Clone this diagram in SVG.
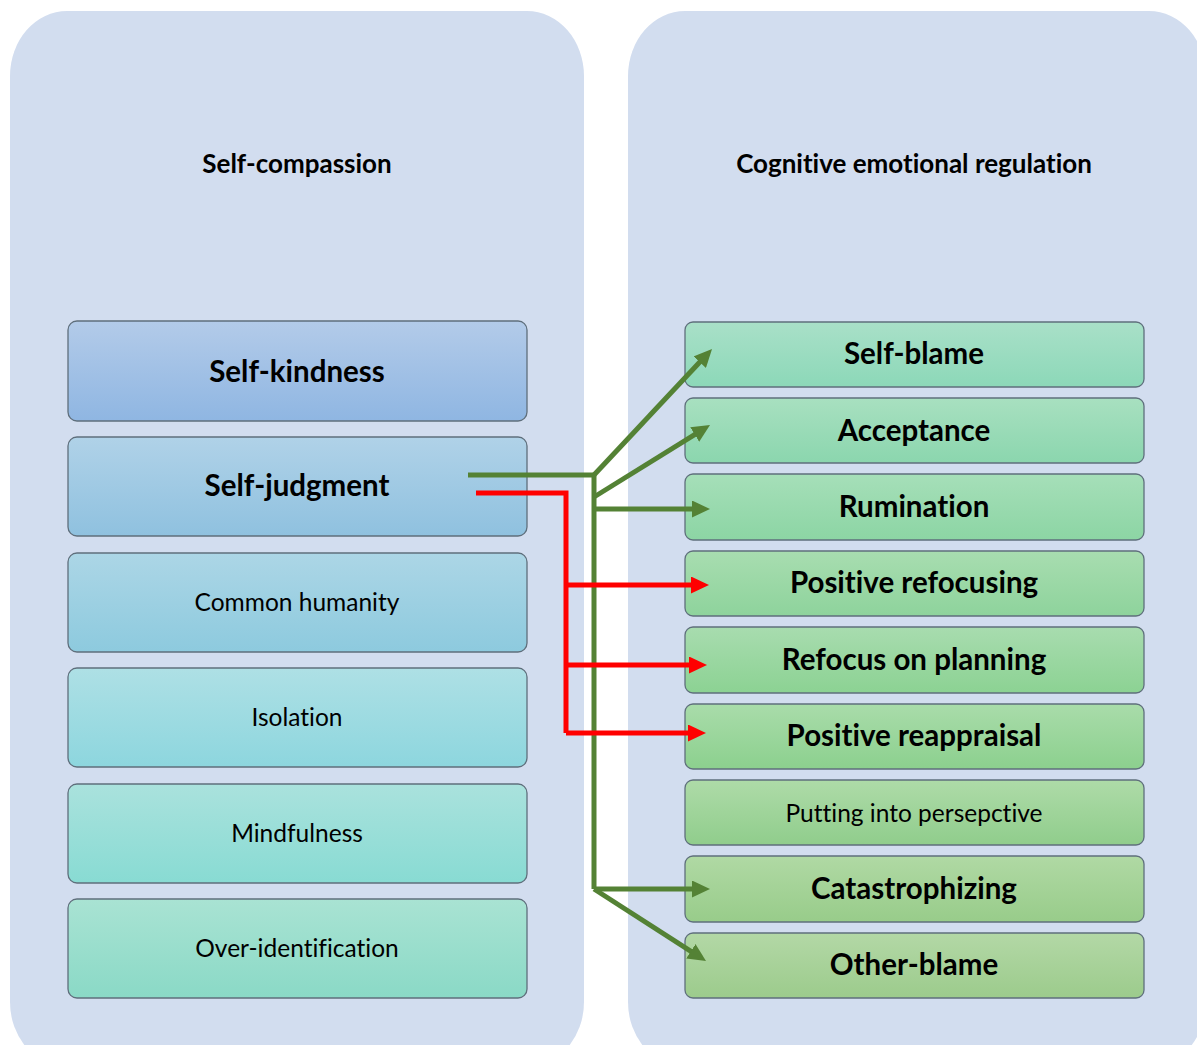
<svg xmlns="http://www.w3.org/2000/svg" width="1197" height="1045" viewBox="0 0 1197 1045">
<style>
.panel{fill:#d2ddef}
.box{stroke:#5f6f7c;stroke-width:1.3}
text{font-family:Lato,"Noto Sans","Liberation Sans",sans-serif;fill:#000;text-anchor:middle;font-variant-ligatures:none}
.hdr{font-size:26px;font-weight:bold}
.b{font-size:29.5px;font-weight:bold}
.r{font-size:24.5px}
.g{fill:none;stroke:#548235;stroke-width:5;stroke-linejoin:miter}
.rd{fill:none;stroke:#ff0000;stroke-width:5;stroke-linejoin:miter}
</style>
<defs>
<marker id="ag" markerUnits="userSpaceOnUse" markerWidth="18" markerHeight="17" refX="8" refY="8.5" orient="auto"><path d="M0,0 L18,8.5 L0,17 z" fill="#548235"/></marker>
<marker id="ar" markerUnits="userSpaceOnUse" markerWidth="18" markerHeight="17" refX="8" refY="8.5" orient="auto"><path d="M0,0 L18,8.5 L0,17 z" fill="#ff0000"/></marker>
<linearGradient id="l1" x1="0" y1="0" x2="0" y2="1"><stop offset="0" stop-color="#b3cbe9"/><stop offset="1" stop-color="#8fb6e2"/></linearGradient>
<linearGradient id="l2" x1="0" y1="0" x2="0" y2="1"><stop offset="0" stop-color="#b0d2e8"/><stop offset="1" stop-color="#8fc1df"/></linearGradient>
<linearGradient id="l3" x1="0" y1="0" x2="0" y2="1"><stop offset="0" stop-color="#acd6e6"/><stop offset="1" stop-color="#8dcade"/></linearGradient>
<linearGradient id="l4" x1="0" y1="0" x2="0" y2="1"><stop offset="0" stop-color="#aee0e5"/><stop offset="1" stop-color="#8dd6de"/></linearGradient>
<linearGradient id="l5" x1="0" y1="0" x2="0" y2="1"><stop offset="0" stop-color="#aae2dd"/><stop offset="1" stop-color="#88dbd3"/></linearGradient>
<linearGradient id="l6" x1="0" y1="0" x2="0" y2="1"><stop offset="0" stop-color="#a9e3d3"/><stop offset="1" stop-color="#8ad9c6"/></linearGradient>
<linearGradient id="r1" x1="0" y1="0" x2="0" y2="1"><stop offset="0" stop-color="#a9e0c8"/><stop offset="1" stop-color="#8cd8b8"/></linearGradient>
<linearGradient id="r2" x1="0" y1="0" x2="0" y2="1"><stop offset="0" stop-color="#a8e0c0"/><stop offset="1" stop-color="#8bd6ae"/></linearGradient>
<linearGradient id="r3" x1="0" y1="0" x2="0" y2="1"><stop offset="0" stop-color="#a6dfb9"/><stop offset="1" stop-color="#8cd5a4"/></linearGradient>
<linearGradient id="r4" x1="0" y1="0" x2="0" y2="1"><stop offset="0" stop-color="#a8ddb0"/><stop offset="1" stop-color="#8ed39c"/></linearGradient>
<linearGradient id="r5" x1="0" y1="0" x2="0" y2="1"><stop offset="0" stop-color="#a8dcaf"/><stop offset="1" stop-color="#8cd293"/></linearGradient>
<linearGradient id="r6" x1="0" y1="0" x2="0" y2="1"><stop offset="0" stop-color="#a9dcaa"/><stop offset="1" stop-color="#8cd08e"/></linearGradient>
<linearGradient id="r7" x1="0" y1="0" x2="0" y2="1"><stop offset="0" stop-color="#aedba8"/><stop offset="1" stop-color="#90cd8c"/></linearGradient>
<linearGradient id="r8" x1="0" y1="0" x2="0" y2="1"><stop offset="0" stop-color="#b0d9a4"/><stop offset="1" stop-color="#98cc8a"/></linearGradient>
<linearGradient id="r9" x1="0" y1="0" x2="0" y2="1"><stop offset="0" stop-color="#b3d8a6"/><stop offset="1" stop-color="#9ccb8c"/></linearGradient>
</defs>
<rect width="1197" height="1045" fill="#ffffff"/>
<g id="panel-left"><rect class="panel" x="10" y="11" width="574" height="1056" rx="57" ry="65"/><text class="hdr" x="297" y="173">Self-compassion</text></g>
<g id="panel-right"><rect class="panel" x="628" y="11" width="578" height="1056" rx="57" ry="65"/><text class="hdr" x="914" y="173">Cognitive emotional regulation</text></g>
<g id="self-kindness"><rect class="box" x="68" y="321" width="459" height="100" rx="9" fill="url(#l1)"/><text class="b" x="297" y="382">Self-kindness</text></g>
<g id="self-judgment"><rect class="box" x="68" y="437" width="459" height="99" rx="9" fill="url(#l2)"/><text class="b" x="297" y="496">Self-judgment</text></g>
<g id="common-humanity"><rect class="box" x="68" y="553" width="459" height="99" rx="9" fill="url(#l3)"/><text class="r" x="297" y="611">Common humanity</text></g>
<g id="isolation"><rect class="box" x="68" y="668" width="459" height="99" rx="9" fill="url(#l4)"/><text class="r" x="297" y="726">Isolation</text></g>
<g id="mindfulness"><rect class="box" x="68" y="784" width="459" height="99" rx="9" fill="url(#l5)"/><text class="r" x="297" y="842">Mindfulness</text></g>
<g id="over-identification"><rect class="box" x="68" y="899" width="459" height="99" rx="9" fill="url(#l6)"/><text class="r" x="297" y="957">Over-identification</text></g>
<g id="self-blame"><rect class="box" x="685" y="322" width="459" height="65" rx="8" fill="url(#r1)"/><text class="b" x="914" y="364">Self-blame</text></g>
<g id="acceptance"><rect class="box" x="685" y="398" width="459" height="65" rx="8" fill="url(#r2)"/><text class="b" x="914" y="441">Acceptance</text></g>
<g id="rumination"><rect class="box" x="685" y="474" width="459" height="66" rx="8" fill="url(#r3)"/><text class="b" x="914" y="517">Rumination</text></g>
<g id="positive-refocusing"><rect class="box" x="685" y="551" width="459" height="65" rx="8" fill="url(#r4)"/><text class="b" x="914" y="593">Positive refocusing</text></g>
<g id="refocus-on-planning"><rect class="box" x="685" y="627" width="459" height="66" rx="8" fill="url(#r5)"/><text class="b" x="914" y="670">Refocus on planning</text></g>
<g id="positive-reappraisal"><rect class="box" x="685" y="704" width="459" height="65" rx="8" fill="url(#r6)"/><text class="b" x="914" y="746">Positive reappraisal</text></g>
<g id="putting-into-perspective"><rect class="box" x="685" y="780" width="459" height="65" rx="8" fill="url(#r7)"/><text class="r" x="914" y="822">Putting into persepctive</text></g>
<g id="catastrophizing"><rect class="box" x="685" y="856" width="459" height="66" rx="8" fill="url(#r8)"/><text class="b" x="914" y="899">Catastrophizing</text></g>
<g id="other-blame"><rect class="box" x="685" y="933" width="459" height="65" rx="8" fill="url(#r9)"/><text class="b" x="914" y="975">Other-blame</text></g>
<g id="connectors">
<path class="g" d="M468,475 L594,475 L594,889"/>
<path class="g" d="M594,475 L705.2,356.3" marker-end="url(#ag)"/>
<path class="g" d="M594,497 L701.5,430.3" marker-end="url(#ag)"/>
<path class="g" d="M594,509 L700,509" marker-end="url(#ag)"/>
<path class="g" d="M594,889 L700,889" marker-end="url(#ag)"/>
<path class="g" d="M594,889 L697.6,955.6" marker-end="url(#ag)"/>
<path class="rd" d="M476,493 L566,493 L566,733"/>
<path class="rd" d="M566,585 L699,585" marker-end="url(#ar)"/>
<path class="rd" d="M566,665 L697,665" marker-end="url(#ar)"/>
<path class="rd" d="M566,733 L696,733" marker-end="url(#ar)"/>
</g>
</svg>
